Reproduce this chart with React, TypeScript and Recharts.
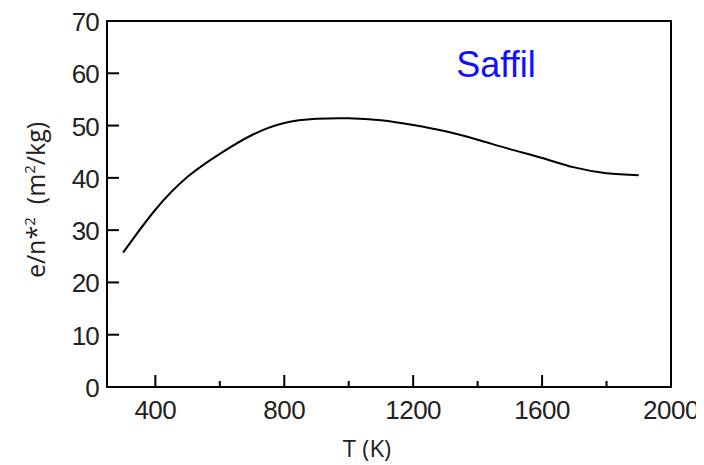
import React from "react";
import {
  LineChart,
  Line,
  XAxis,
  YAxis,
  ReferenceArea,
  Label,
} from "recharts";

// temperatures (K) and e/n*^2 values
const temps = [300, 400, 500, 600, 700, 800, 900, 1000, 1100, 1200, 1300, 1400, 1500, 1600, 1700, 1800, 1900];
const values = [25.7, 33.9, 40.2, 44.6, 48.2, 50.5, 51.3, 51.4, 51.0, 50.1, 48.9, 47.3, 45.5, 43.8, 42.0, 40.9, 40.5];

const xTicks = [400, 600, 800, 1000, 1200, 1400, 1600, 1800, 2000];
const yTicks = [0, 10, 20, 30, 40, 50, 60, 70];

const data = temps.map((t, i) => ({ t, v: values[i] }));

const numFont = "'Liberation Sans', Arial, sans-serif";
const labelFont = "'Open Sans', 'Liberation Sans', sans-serif";

const XTick = (props: any) => {
  const { x, y, payload } = props;
  const major = payload.value % 400 === 0;
  return (
    <g>
      <line x1={x} x2={x} y1={y} y2={y - (major ? 12 : 6)} stroke="#000" strokeWidth={2} />
      {major && (
        <text x={x} y={y + 32} textAnchor="middle" fontSize={26} letterSpacing={-0.5} fontFamily={numFont} fill="#222">
          {payload.value}
        </text>
      )}
    </g>
  );
};

const YTick = (props: any) => {
  const { x, y, payload } = props;
  return (
    <g>
      <line x1={x} x2={x + 12} y1={y} y2={y} stroke="#000" strokeWidth={2} />
      <text x={x - 8} y={y + 10} textAnchor="end" fontSize={26} letterSpacing={-0.8} fontFamily={numFont} fill="#222">
        {payload.value}
      </text>
    </g>
  );
};

// all free text, placed relative to the plot box
const Texts = (p: any) => {
  const vb = p.viewBox;
  const cx = vb.x - 62;
  const cy = vb.y + vb.height / 2 - 4;
  return (
    <g>
      <text x={vb.x + 389} y={vb.y + 56} textAnchor="middle" fontSize={36} fontFamily={numFont} fill="#1010ff">
        Saffil
      </text>
      <text x={vb.x + vb.width / 2 - 22} y={vb.y + vb.height + 70} textAnchor="middle" fontSize={24} fontFamily={labelFont} fill="#222">
        T (K)
      </text>
      <text
        x={cx}
        y={cy}
        textAnchor="middle"
        transform={`rotate(-90 ${cx} ${cy})`}
        fontSize={25}
        fontFamily={labelFont}
        fill="#222"
      >
        e/n*
        <tspan fontSize={15} dy={-10}>2</tspan>
        <tspan dy={10}>{"\u00a0\u00a0(m"}</tspan>
        <tspan fontSize={15} dy={-10}>2</tspan>
        <tspan dy={10}>/kg)</tspan>
      </text>
    </g>
  );
};

export default function App() {
  return (
    <div style={{ width: 696, height: 457 }}>
      <style>{"html, body { overflow: hidden; } svg.recharts-surface { overflow: visible; }"}</style>
      <LineChart
        width={696}
        height={457}
        data={data}
        margin={{ top: 13, right: 33, bottom: 38, left: 39 }}
      >
        <XAxis
          dataKey="t"
          type="number"
          domain={[250, 2000]}
          ticks={xTicks}
          tickSize={0}
          tickMargin={0}
          tickLine={false}
          tick={<XTick />}
          height={40}
          axisLine={{ stroke: "#000", strokeWidth: 2 }}
        />
        <YAxis
          type="number"
          domain={[0, 70]}
          ticks={yTicks}
          tickSize={0}
          tickMargin={0}
          tickLine={false}
          tick={<YTick />}
          width={60}
          axisLine={{ stroke: "#000", strokeWidth: 2 }}
        />
        <ReferenceArea
          x1={250}
          x2={2000}
          y1={0}
          y2={70}
          fill="none"
          stroke="#000"
          strokeWidth={2}
          ifOverflow="visible"
        >
          <Label content={Texts} />
        </ReferenceArea>
        <Line
          type="natural"
          dataKey="v"
          stroke="#000"
          strokeWidth={2}
          dot={false}
          isAnimationActive={false}
        />
      </LineChart>
    </div>
  );
}
